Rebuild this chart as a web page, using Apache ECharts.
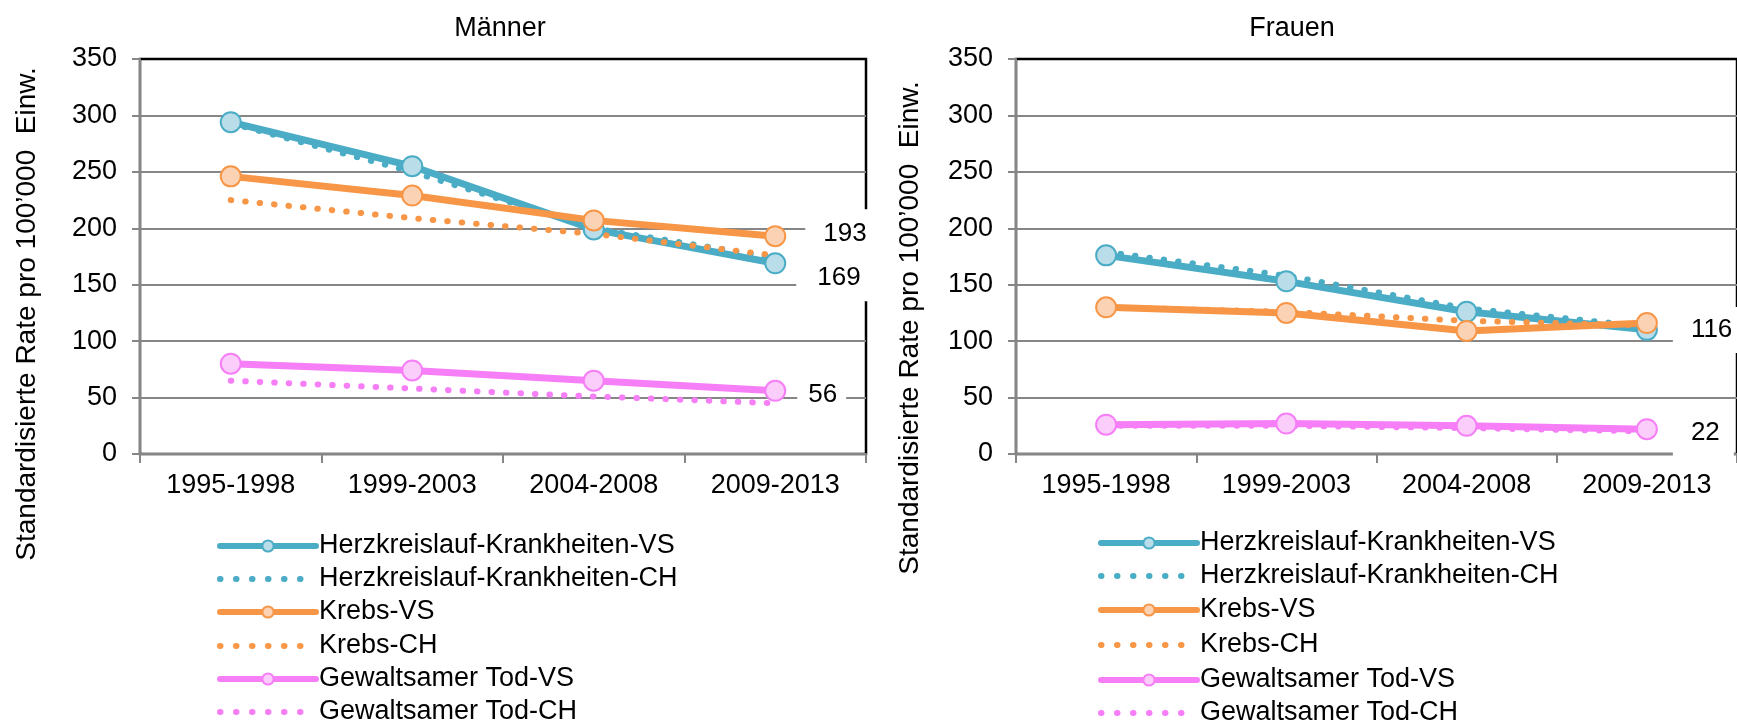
<!DOCTYPE html>
<html>
<head>
<meta charset="utf-8">
<script src="https://cdn.jsdelivr.net/npm/echarts@6/dist/echarts.min.js"></script>
<style>
  html, body { margin: 0; padding: 0; background: #fff; }
  #chart { width: 1737px; height: 725px; }
</style>
</head>
<body>
<div id="chart"></div>
<script>
// Perioden
const categories = ['1995-1998', '1999-2003', '2004-2008', '2009-2013'];
const seriesNames = [
  'Herzkreislauf-Krankheiten-VS', 'Herzkreislauf-Krankheiten-CH',
  'Krebs-VS', 'Krebs-CH',
  'Gewaltsamer Tod-VS', 'Gewaltsamer Tod-CH'
];

// Männer
const mHerzVS = [294, 255, 199, 169];
const mHerzCH = [293, 250, 200, 174];
const mKrebsVS = [246, 229, 207, 193];
const mKrebsCH = [225, 209, 195, 176];
const mGewaltVS = [80, 74, 65, 56];
const mGewaltCH = [65, 58, 51, 45];

// Frauen
const fHerzVS = [176, 153, 126, 110];
const fHerzCH = [179, 158, 129, 113];
const fKrebsVS = [130, 125, 109, 116];
const fKrebsCH = [130, 126, 118, 114];
const fGewaltVS = [26, 27, 25, 22];
const fGewaltCH = [25, 25, 23, 20];

const FONT = "'Liberation Sans', Arial, sans-serif";
const TEAL = '#4bacc6', ORANGE = '#f79646', PINK = '#f67ef6';
const FILLS = { [TEAL]: '#b9dde9', [ORANGE]: '#fbd3b4', [PINK]: '#fbcdfb' };
const COLORS = [TEAL, TEAL, ORANGE, ORANGE, PINK, PINK];
const DOTS = [0.5, 14];

// Datenlabel nur am letzten Punkt
function lastLabel(values, cfg) {
  return values.map((v, i) => {
    if (!cfg || i !== values.length - 1) return v;
    return {
      value: v,
      label: Object.assign({
        show: true,
        position: 'right',
        fontSize: 26,
        fontFamily: FONT,
        color: '#000',
        backgroundColor: '#fff'
      }, cfg)
    };
  });
}

function vsLine(name, idx, values, color, cfg) {
  return {
    name: name, type: 'line', xAxisIndex: idx, yAxisIndex: idx,
    data: lastLabel(values, cfg),
    symbol: 'circle', symbolSize: 20,
    lineStyle: { color: color, width: 7 },
    itemStyle: { color: FILLS[color], borderColor: color, borderWidth: 2 },
    emphasis: { disabled: true }
  };
}

function chLine(name, idx, values, color) {
  return {
    name: name, type: 'line', xAxisIndex: idx, yAxisIndex: idx,
    data: values,
    symbol: 'none', showSymbol: false,
    lineStyle: { color: color, width: 6, type: DOTS, cap: 'round' },
    itemStyle: { color: color },
    emphasis: { disabled: true }
  };
}

const grids = [
  { left: 140, top: 59, width: 726, height: 395 },
  { left: 1016, top: 59, width: 726, height: 395 }
];

const xAxes = grids.map((g, i) => ({
  type: 'category', gridIndex: i, data: categories,
  boundaryGap: true,
  axisLine: { lineStyle: { color: '#868686', width: 2 } },
  axisTick: { show: true, length: 9, lineStyle: { color: '#868686', width: 2 } },
  axisLabel: { color: '#000', fontSize: 27, fontFamily: FONT, margin: 18 },
  splitLine: { show: false }
}));

const yAxes = grids.map((g, i) => ({
  type: 'value', gridIndex: i, min: 0, max: 350, interval: 50,
  axisLine: { show: true, lineStyle: { color: '#868686', width: 2 } },
  axisTick: { show: true, length: 8, lineStyle: { color: '#868686', width: 2 } },
  axisLabel: { color: '#000', fontSize: 27, fontFamily: FONT, margin: 23 },
  // oberste Linie kommt vom schwarzen Rahmen
  splitLine: { showMaxLine: false, lineStyle: { color: '#868686', width: 2 } }
}));

const series = [
  vsLine(seriesNames[0], 0, mHerzVS, TEAL, { distance: 10, padding: [8, 14, 12, 21], offset: [0, 15] }),
  chLine(seriesNames[1], 0, mHerzCH, TEAL),
  vsLine(seriesNames[2], 0, mKrebsVS, ORANGE, { distance: 19, padding: [14, 14, 10, 18], offset: [0, -2] }),
  chLine(seriesNames[3], 0, mKrebsCH, ORANGE),
  vsLine(seriesNames[4], 0, mGewaltVS, PINK, { distance: 11, padding: [6, 9, 6, 11], offset: [0, 4] }),
  chLine(seriesNames[5], 0, mGewaltCH, PINK),

  vsLine(seriesNames[0], 1, fHerzVS, TEAL),
  chLine(seriesNames[1], 1, fHerzCH, TEAL),
  vsLine(seriesNames[2], 1, fKrebsVS, ORANGE, { distance: 15, padding: [10, 14, 10, 18], offset: [0, 7] }),
  chLine(seriesNames[3], 1, fKrebsCH, ORANGE),
  vsLine(seriesNames[4], 1, fGewaltVS, PINK, { distance: 15, padding: [12, 14, 12, 18], offset: [0, 4] }),
  chLine(seriesNames[5], 1, fGewaltCH, PINK)
];

// Legenden: eine Zeile je Eintrag, damit nichts umbricht
const legendRows = [
  { left: 217, centers: [546, 579, 612, 646, 679, 712] },
  { left: 1098, centers: [543, 576, 610, 645, 680, 713] }
];
const legends = [];
legendRows.forEach(side => {
  seriesNames.forEach((name, k) => {
    const dotted = k % 2 === 1;
    legends.push({
      orient: 'vertical',
      left: side.left,
      top: side.centers[k] - 14,
      padding: 0,
      itemWidth: 96, itemHeight: 14, itemGap: 0,
      selectedMode: false,
      data: [{
        name: name,
        itemStyle: dotted ? { opacity: 0 } : { color: FILLS[COLORS[k]], borderColor: COLORS[k], borderWidth: 2 },
        lineStyle: dotted
          ? { color: COLORS[k], width: 6, type: [0.5, 15.5], cap: 'round' }
          : { color: COLORS[k], width: 6, type: 'solid', cap: 'round' }
      }],
      textStyle: { fontSize: 27, fontFamily: FONT, color: '#000', lineHeight: 28, padding: [0, 0, 0, -2] }
    });
  });
});

const yTitle = 'Standardisierte Rate pro 100\u2019000  Einw.';

const option = {
  animation: false,
  backgroundColor: '#fff',
  textStyle: { fontFamily: FONT },
  grid: grids.map(g => Object.assign({ show: true, borderColor: '#000', borderWidth: 2.5 }, g)),
  xAxis: xAxes,
  yAxis: yAxes,
  legend: legends,
  graphic: [
    { type: 'text', x: 500, y: 29, style: { text: 'Männer', font: '27px ' + FONT, fill: '#000', align: 'center', verticalAlign: 'middle' } },
    { type: 'text', x: 1292, y: 29, style: { text: 'Frauen', font: '27px ' + FONT, fill: '#000', align: 'center', verticalAlign: 'middle' } },
    { type: 'text', x: 27, y: 314, rotation: Math.PI / 2, style: { text: yTitle, font: '28px ' + FONT, fill: '#000', align: 'center', verticalAlign: 'middle' } },
    { type: 'text', x: 910, y: 328, rotation: Math.PI / 2, style: { text: yTitle, font: '28px ' + FONT, fill: '#000', align: 'center', verticalAlign: 'middle' } }
  ],
  series: series
};

const chart = echarts.init(document.getElementById('chart'), null, { renderer: 'canvas' });
chart.setOption(option);
</script>
</body>
</html>
